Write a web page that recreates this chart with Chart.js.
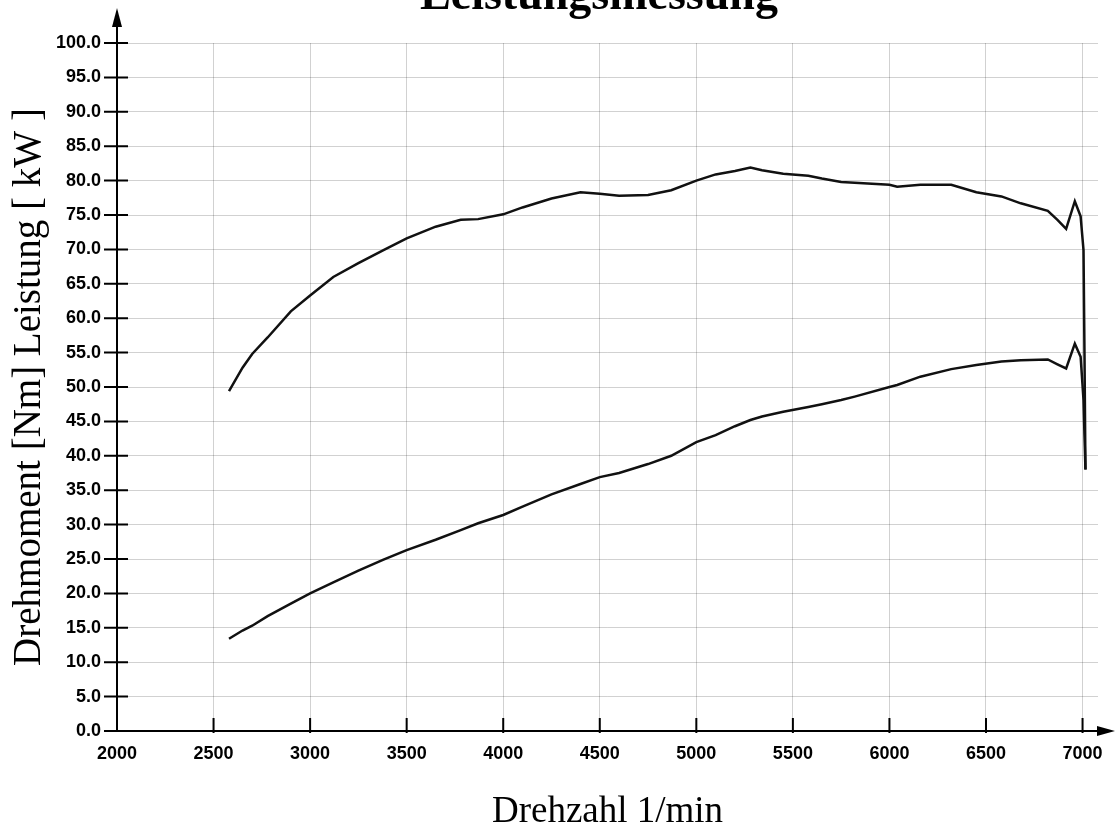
<!DOCTYPE html>
<html>
<head>
<meta charset="utf-8">
<script src="https://cdn.jsdelivr.net/npm/chart.js"></script>
<style>
    body { margin: 0; background: #fff; }
    canvas { display: block; }
</style>
</head>
<body>
<canvas id="leistungChart" width="1116" height="838"></canvas>
<script>
const drehzahl = [2580, 2650, 2700, 2780, 2900, 3000, 3120, 3250, 3380, 3500, 3650, 3780, 3870, 4000, 4100, 4250, 4400, 4500, 4600, 4750, 4870, 5000, 5100, 5200, 5280, 5340, 5450, 5580, 5650, 5750, 5820, 6000, 6040, 6160, 6320, 6450, 6580, 6680, 6820, 6870, 6915, 6960, 6990, 7005, 7010, 7015];
const drehmoment = [49.4, 52.8, 54.8, 57.2, 61.0, 63.3, 66.0, 68.0, 69.9, 71.6, 73.3, 74.3, 74.4, 75.1, 76.1, 77.4, 78.3, 78.1, 77.8, 77.9, 78.6, 80.0, 80.9, 81.4, 81.9, 81.5, 81.0, 80.7, 80.3, 79.8, 79.7, 79.4, 79.1, 79.4, 79.4, 78.3, 77.7, 76.7, 75.6, 74.3, 73.0, 77.0, 74.8, 69.9, 55.0, 38.0];
const leistung = [13.4, 14.6, 15.3, 16.7, 18.5, 20.0, 21.6, 23.3, 24.9, 26.3, 27.8, 29.2, 30.2, 31.4, 32.6, 34.4, 35.9, 36.9, 37.5, 38.8, 40.0, 42.0, 43.0, 44.3, 45.2, 45.7, 46.4, 47.1, 47.5, 48.1, 48.6, 50.0, 50.3, 51.5, 52.6, 53.2, 53.7, 53.9, 54.0, 53.3, 52.7, 56.3, 54.4, 48.1, 43.0, 38.0];

const xTicks = [2000, 2500, 3000, 3500, 4000, 4500, 5000, 5500, 6000, 6500, 7000];
const yTicks = [0, 5, 10, 15, 20, 25, 30, 35, 40, 45, 50, 55, 60, 65, 70, 75, 80, 85, 90, 95, 100];

document.addEventListener("DOMContentLoaded", () => {

    function punkte(werte) {
        return drehzahl.map((n, i) => ({ x: n, y: werte[i] }));
    }

    // Achsen mit Pfeilen, Striche und die abgeschnittene Überschrift
    const achsen = {
        id: "achsen",
        afterDraw(chart) {
            const ctx = chart.ctx;
            const sx = chart.scales.x, sy = chart.scales.y;
            const x0 = sx.getPixelForValue(2000);
            const y0 = sy.getPixelForValue(0);
            ctx.save();
            ctx.strokeStyle = "#000";
            ctx.fillStyle = "#000";
            ctx.lineWidth = 2;

            ctx.beginPath();
            ctx.moveTo(x0, y0 + 1);
            ctx.lineTo(x0, 24);
            ctx.moveTo(x0 - 1, y0);
            ctx.lineTo(1098, y0);
            ctx.stroke();

            ctx.beginPath();
            ctx.moveTo(x0, 8);
            ctx.lineTo(x0 - 5, 27);
            ctx.lineTo(x0 + 5, 27);
            ctx.closePath();
            ctx.fill();

            ctx.beginPath();
            ctx.moveTo(1115, y0);
            ctx.lineTo(1097, y0 - 5);
            ctx.lineTo(1097, y0 + 5);
            ctx.closePath();
            ctx.fill();

            ctx.beginPath();
            yTicks.forEach(v => {
                const py = sy.getPixelForValue(v);
                ctx.moveTo(x0 - 13, py);
                ctx.lineTo(x0 + 11, py);
            });
            xTicks.slice(1).forEach(v => {
                const px = sx.getPixelForValue(v);
                ctx.moveTo(px, y0 - 13);
                ctx.lineTo(px, y0 + 2);
            });
            ctx.stroke();

            ctx.font = 'bold 46px "Liberation Serif"';
            ctx.textAlign = "center";
            ctx.textBaseline = "alphabetic";
            ctx.fillText("Leistungsmessung", 599, 9);
            ctx.restore();
        }
    };

    const canvas = document.getElementById("leistungChart");
    new Chart(canvas, {
        type: "line",
        data: {
            datasets: [{
                label: "Drehmoment",
                data: punkte(drehmoment),
                borderColor: "#111",
                borderWidth: 2.5,
                pointRadius: 0,
                tension: 0
            }, {
                label: "Leistung",
                data: punkte(leistung),
                borderColor: "#111",
                borderWidth: 2.5,
                pointRadius: 0,
                tension: 0
            }]
        },
        options: {
            responsive: false,
            animation: false,
            layout: {
                padding: { top: 43, right: 18, left: 0, bottom: 0 }
            },
            plugins: {
                legend: { display: false },
                tooltip: { enabled: false }
            },
            scales: {
                x: {
                    type: "linear",
                    min: 2000,
                    max: 7080,
                    afterBuildTicks: (s) => { s.ticks = xTicks.map(v => ({ value: v })); },
                    afterFit: (s) => { s.height = 107; },
                    grid: { color: "rgba(0,0,0,0.18)", drawTicks: false },
                    border: { display: false },
                    ticks: {
                        padding: 12,
                        color: "#000",
                        maxRotation: 0,
                        font: { family: "Liberation Sans", size: 18, weight: "bold" },
                        callback: (v) => String(v)
                    },
                    title: {
                        display: true,
                        text: "Drehzahl 1/min",
                        color: "#000",
                        padding: { top: 0, bottom: 4 },
                        font: { family: "Liberation Serif", size: 37 }
                    }
                },
                y: {
                    min: 0,
                    max: 100,
                    afterBuildTicks: (s) => { s.ticks = yTicks.map(v => ({ value: v })); },
                    afterFit: (s) => { s.width = 117; },
                    grid: { color: "rgba(0,0,0,0.18)", drawTicks: false },
                    border: { display: false },
                    ticks: {
                        padding: 16,
                        color: "#000",
                        font: { family: "Liberation Sans", size: 18, weight: "bold" },
                        callback: (v) => Number(v).toFixed(1)
                    },
                    title: {
                        display: true,
                        text: "Drehmoment [Nm] Leistung [ kW ]",
                        color: "#000",
                        padding: { top: 6, bottom: 0 },
                        font: { family: "Liberation Serif", size: 39 }
                    }
                }
            }
        },
        plugins: [achsen]
    });
});
</script>
</body>
</html>
